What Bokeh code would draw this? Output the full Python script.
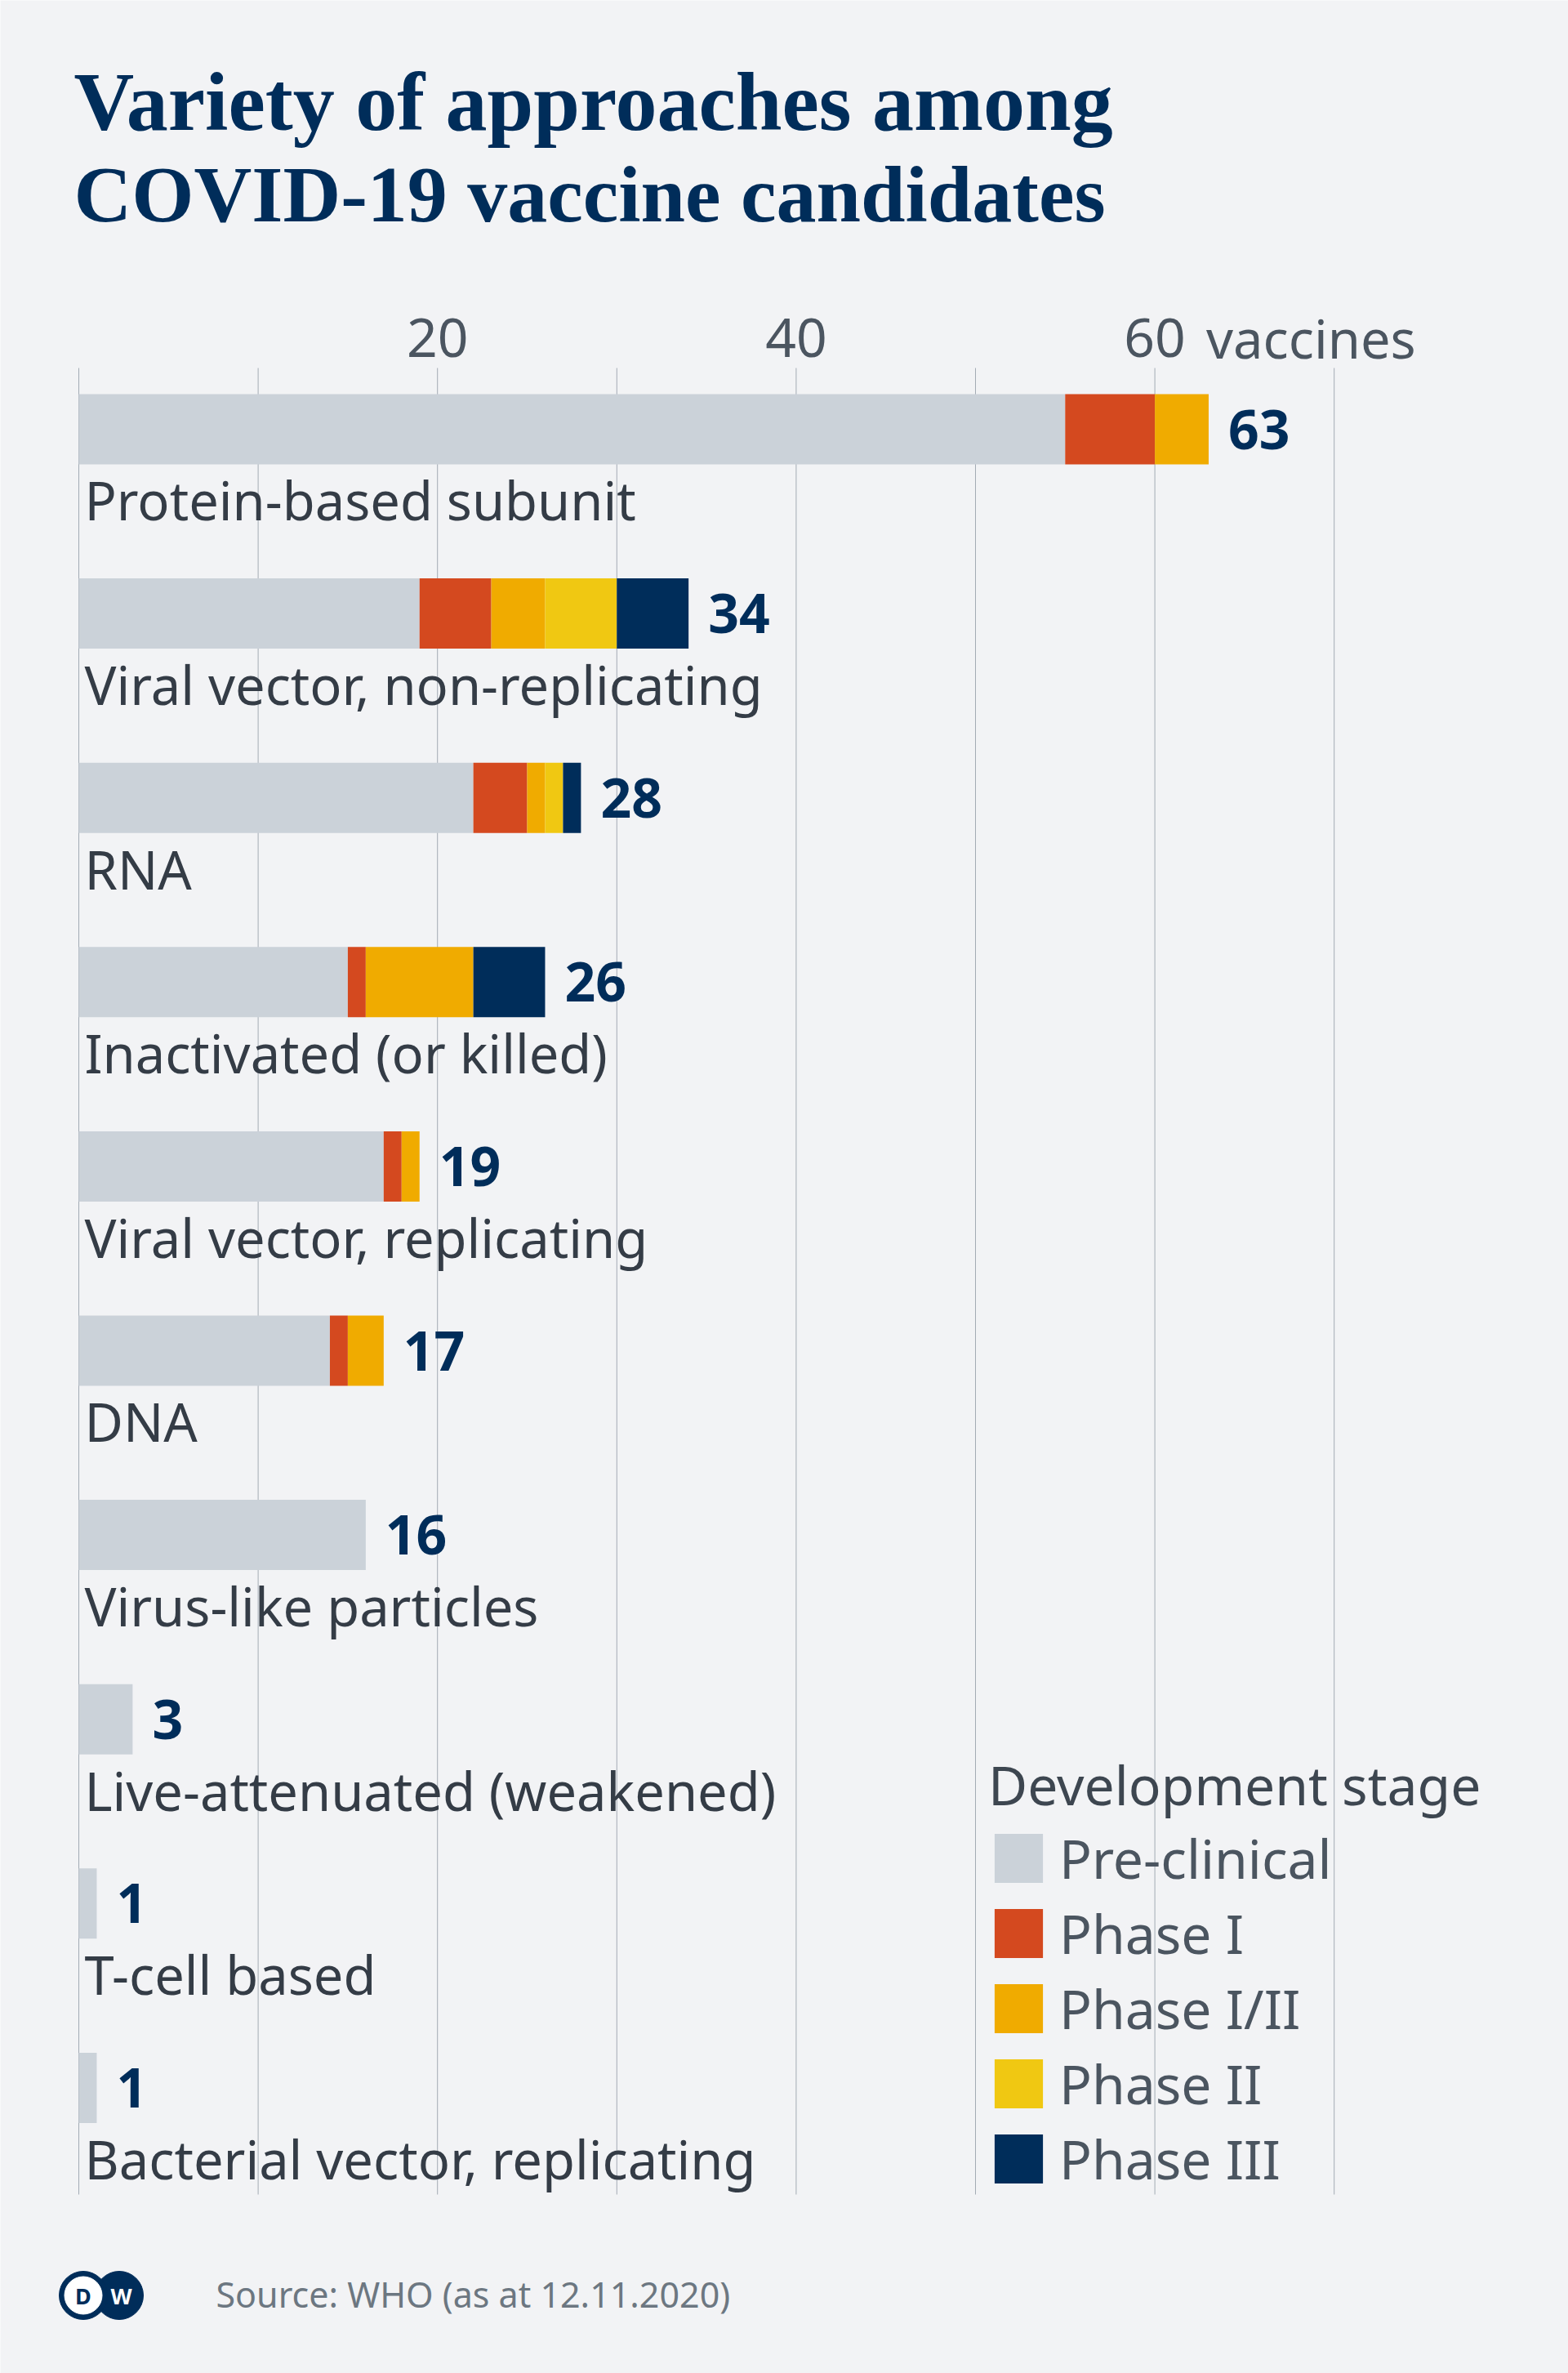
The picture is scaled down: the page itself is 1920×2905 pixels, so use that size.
from bokeh.plotting import figure
from bokeh.models import Range1d, ColumnDataSource
from bokeh.embed import file_html
from bokeh.resources import INLINE
from bokeh.core.properties import value

# ---------------- data ----------------
categories = ["Protein-based subunit", "Viral vector, non-replicating", "RNA",
              "Inactivated (or killed)", "Viral vector, replicating", "DNA",
              "Virus-like particles", "Live-attenuated (weakened)", "T-cell based",
              "Bacterial vector, replicating"]
stages = ["Pre-clinical", "Phase I", "Phase I/II", "Phase II", "Phase III"]
pre_clinical = [55, 19, 22, 15, 17, 14, 16, 3, 1, 1]
phase_1 = [5, 4, 3, 1, 1, 1, 0, 0, 0, 0]
phase_1_2 = [3, 3, 1, 6, 1, 2, 0, 0, 0, 0]
phase_2 = [0, 4, 1, 0, 0, 0, 0, 0, 0, 0]
phase_3 = [0, 4, 1, 4, 0, 0, 0, 0, 0, 0]
tick_values = [20, 40, 60]
tick_labels = ["20", "40", "60"]
axis_unit = "vaccines"
grid_values = [0, 10, 20, 30, 40, 50, 60, 70]
title_lines = ["Variety of approaches among", "COVID-19 vaccine candidates"]
legend_title = "Development stage"
source_note = "Source: WHO (as at 12.11.2020)"

# ---------------- style ----------------
BG = "#f2f3f5"
NAVY = "#002d5a"
stage_colors = ["#cbd2d9", "#d4491f", "#f0ab00", "#f0c812", "#002d5a"]
GRID = "#a3abb4"
CAT_TEXT = "#343c46"
TICK_TEXT = "#4b5560"
SOURCE_TEXT = "#6c7781"
SANS = "Noto Sans"
SERIF = "Liberation Serif"

# ---------------- geometry (canvas = frame = page) ----------------
W = 1920
H = 2905
PX_PER_UNIT = 21.96
PITCH = 225.6
ZERO_X = 96          # canvas x of value 0
BAR0_CY = 525        # canvas y of first bar centre
BAR_H = 86 / PITCH

x_start = -ZERO_X / PX_PER_UNIT
x_end = x_start + W / PX_PER_UNIT
y_top = -BAR0_CY / PITCH
y_bottom = (H - BAR0_CY) / PITCH


def dx(px):
    return (px - ZERO_X) / PX_PER_UNIT


def dy(py):
    return (py - BAR0_CY) / PITCH


p = figure(width=W, height=H,
           x_range=Range1d(x_start, x_end), y_range=Range1d(y_bottom, y_top),
           output_backend="svg", toolbar_location=None,
           x_axis_location=None, y_axis_location=None, min_border=0,
           background_fill_color=BG, border_fill_color=BG, outline_line_color=None)
p.grid.visible = False

# grid lines (value axis)
p.segment(x0=grid_values, x1=grid_values, y0=[dy(450)] * len(grid_values),
          y1=[dy(2686)] * len(grid_values), line_color=GRID, line_width=1)

idx = list(range(len(categories)))
totals = [a + b + c + d + e for a, b, c, d, e in zip(pre_clinical, phase_1, phase_1_2, phase_2, phase_3)]
source = ColumnDataSource(dict(
    idx=idx,
    cat=categories,
    total=totals,
    total_str=[str(t) for t in totals],
    zero=[0] * len(idx),
    lab_y=[i + 86.8 / PITCH for i in idx],
    **{stages[0]: pre_clinical, stages[1]: phase_1, stages[2]: phase_1_2,
       stages[3]: phase_2, stages[4]: phase_3},
))

p.hbar_stack(stages, y="idx", height=BAR_H, color=stage_colors, source=source,
             legend_label=stages, line_width=0)

# totals at bar ends
p.text(x="total", y="idx", text="total_str", source=source, x_offset=24,
       text_font=value(SANS), text_font_size="66px", text_font_style="bold",
       text_color=NAVY, text_baseline="middle", text_align="left")

# category labels under the bars
p.text(x="zero", y="lab_y", text="cat", source=source, x_offset=7,
       text_font=value(SANS), text_font_size="65px", text_color=CAT_TEXT,
       text_baseline="middle", text_align="left")

# value axis tick labels (top)
p.text(x=tick_values, y=[dy(413.4)] * len(tick_values), text=tick_labels,
       text_font=value(SANS), text_font_size="66px", text_color=TICK_TEXT,
       text_baseline="middle", text_align="center")
p.text(x=[tick_values[-1]], y=[dy(413.4)], text=[axis_unit], x_offset=63,
       text_font=value(SANS), text_font_size="65px", text_color=TICK_TEXT,
       text_baseline="middle", text_align="left")

# title
title_src = ColumnDataSource(dict(
    x=[dx(90)] * 2, y=[dy(123.8), dy(237.8)], text=title_lines,
    size=["102px", "98px"],
))
p.text(x="x", y="y", text="text", source=title_src,
       text_font=value(SERIF), text_font_size="size", text_font_style="bold",
       text_color=NAVY, text_baseline="middle", text_align="left")

# legend
lg = p.legend[0]
lg.title = legend_title
lg.title_text_font = SANS
lg.title_text_font_size = "66px"
lg.title_text_font_style = "normal"
lg.title_text_color = "#3d4650"
lg.title_standoff = 0
lg.label_text_font = SANS
lg.label_text_font_size = "66px"
lg.label_text_color = TICK_TEXT
lg.glyph_width = 74
lg.glyph_height = 75
lg.label_standoff = 13
lg.spacing = 2
lg.padding = 0
lg.margin = 0
lg.background_fill_alpha = 0
lg.border_line_alpha = 0
lg.location = (1210, 218)

# footer: logo + source
cy = dy(2809.5)
p.circle(x=[dx(145.5)], y=[cy], radius=29.5, radius_units="screen", color=NAVY)
p.circle(x=[dx(101.5)], y=[cy], radius=29.5, radius_units="screen", color=NAVY)
p.circle(x=[dx(101.5)], y=[cy], radius=23, radius_units="screen", color="white")
p.text(x=[dx(101.5)], y=[cy], text=["D"], text_font=value(SANS), text_font_style="bold",
       text_font_size="27px", text_color=NAVY, text_align="center", text_baseline="middle")
p.text(x=[dx(148)], y=[cy], text=["W"], text_font=value(SANS), text_font_style="bold",
       text_font_size="27px", text_color="white", text_align="center", text_baseline="middle")
p.text(x=[dx(264)], y=[dy(2807.5)], text=[source_note], text_font=value(SANS),
       text_font_size="43px", text_color=SOURCE_TEXT, text_baseline="middle")

open("out.html", "w").write(file_html(p, INLINE))
